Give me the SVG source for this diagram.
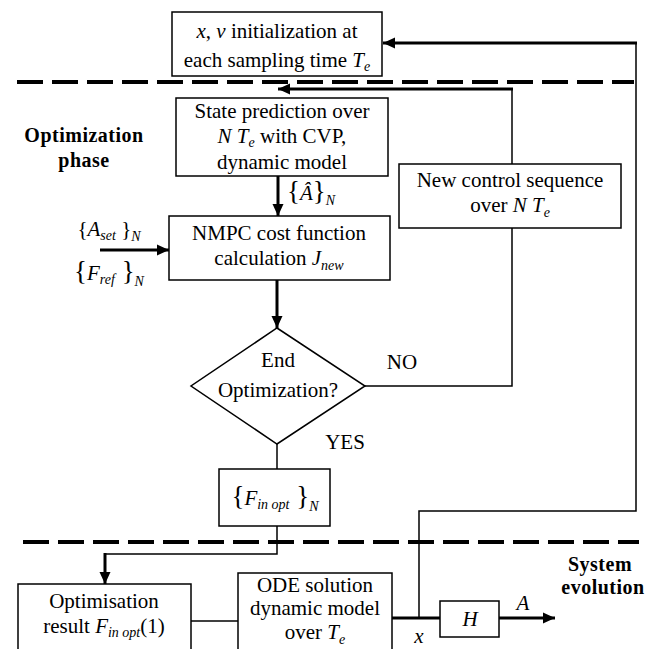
<svg xmlns="http://www.w3.org/2000/svg" width="655" height="649" viewBox="0 0 655 649" font-family="'Liberation Serif', 'DejaVu Serif', serif">
<style>
text{font-family:'Liberation Serif','DejaVu Serif',serif;font-size:21px;fill:#000;text-anchor:middle}
.b{font-weight:bold;font-size:20px;letter-spacing:0.5px}
.i{font-style:italic}
.s{font-style:italic;font-size:14px}
.br{font-size:27px;font-style:normal}
.box{fill:#fff;stroke:#000;stroke-width:1.5}
.thin{fill:none;stroke:#000;stroke-width:1.5}
.thick{fill:none;stroke:#000;stroke-width:3}
.dash{fill:none;stroke:#000;stroke-width:4;stroke-dasharray:26 9}
</style>
<defs>
<marker id="ah" markerUnits="userSpaceOnUse" markerWidth="13" markerHeight="12" refX="12" refY="6" orient="auto">
<path d="M0,0.5 L12,6 L0,11.5 z" fill="#000"/>
</marker>
</defs>

<g id="separators">
<line class="dash" x1="17" y1="82" x2="634" y2="82"/>
<line class="dash" x1="23" y1="542" x2="639" y2="542"/>
</g>

<g id="connectors">
<polyline class="thin" points="419,618 419,511 636,511 636,43"/>
<line class="thick" x1="637" y1="43" x2="383" y2="43" marker-end="url(#ah)"/>
<polyline class="thin" points="365,386 512,386 512,228"/>
<line class="thin" x1="512" y1="164" x2="512" y2="89"/>
<line class="thick" x1="513" y1="89" x2="278" y2="89" marker-end="url(#ah)"/>
<line class="thick" x1="278" y1="176" x2="278" y2="216" marker-end="url(#ah)"/>
<line class="thick" x1="100" y1="250" x2="169" y2="250" marker-end="url(#ah)"/>
<line class="thick" x1="277" y1="280" x2="277" y2="328" marker-end="url(#ah)"/>
<line class="thin" x1="277" y1="444" x2="277" y2="469"/>
<polyline class="thin" points="277,526 277,554 105,554"/>
<line class="thick" x1="105" y1="553" x2="105" y2="584" marker-end="url(#ah)"/>
<line class="thin" x1="191" y1="621" x2="238" y2="621"/>
<line class="thick" x1="392" y1="618" x2="440" y2="618"/>
<line class="thick" x1="499" y1="618" x2="555" y2="618" marker-end="url(#ah)"/>
</g>

<g id="init">
<rect class="box" x="172" y="12" width="210" height="64"/>
<text x="277" y="38"><tspan class="i">x</tspan>, <tspan class="i">ν</tspan>  initialization at</text>
<text x="277" y="67">each sampling time <tspan class="i">T</tspan><tspan class="s" dy="4">e</tspan></text>
</g>

<g id="phase-labels">
<text class="b" x="84" y="142">Optimization</text>
<text class="b" x="84" y="167">phase</text>
<text class="b" x="600" y="571">System</text>
<text class="b" x="603" y="594">evolution</text>
</g>

<g id="state-prediction">
<rect class="box" x="176" y="98" width="212" height="78"/>
<text x="282" y="118">State prediction over</text>
<text x="282" y="143"><tspan class="i">N T</tspan><tspan class="s" dy="4">e</tspan><tspan dy="-4">  with CVP,</tspan></text>
<text x="282" y="169">dynamic model</text>
</g>

<g id="a-hat-label">
<text x="311" y="200"><tspan class="br">{</tspan><tspan class="i">Â</tspan><tspan class="br">}</tspan><tspan class="s" dy="5">N</tspan></text>
</g>

<g id="inputs">
<text x="109" y="236"><tspan>{</tspan><tspan class="i">A</tspan><tspan class="s" dy="4">set</tspan><tspan dy="-4"> }</tspan><tspan class="s" dy="5">N</tspan></text>
<text x="109" y="280"><tspan class="br">{</tspan><tspan class="i">F</tspan><tspan class="s" dy="4">ref</tspan><tspan class="br" dy="-4"> }</tspan><tspan class="s" dy="6">N</tspan></text>
</g>

<g id="nmpc">
<rect class="box" x="169" y="216" width="221" height="64"/>
<text x="279" y="240">NMPC cost function</text>
<text x="279" y="265">calculation  <tspan class="i">J</tspan><tspan class="s" dy="5">new</tspan></text>
</g>

<g id="decision">
<polygon class="box" points="277,328 365,386 277,444 191,386"/>
<text x="278" y="367">End</text>
<text x="278" y="397">Optimization?</text>
<text x="402" y="369">NO</text>
<text x="345" y="449">YES</text>
</g>

<g id="new-control">
<rect class="box" x="399" y="164" width="222" height="64"/>
<text x="510" y="187">New control sequence</text>
<text x="510" y="212">over  <tspan class="i">N T</tspan><tspan class="s" dy="5">e</tspan></text>
</g>

<g id="f-opt-seq">
<rect class="box" x="219" y="469" width="111" height="57"/>
<text x="275" y="505"><tspan class="br">{</tspan><tspan class="i">F</tspan><tspan class="s" dy="4">in opt</tspan><tspan class="br" dy="-4"> }</tspan><tspan class="s" dy="6">N</tspan></text>
</g>

<g id="opt-result">
<rect class="box" x="18" y="584" width="173" height="70"/>
<text x="104" y="608">Optimisation</text>
<text x="104" y="633">result  <tspan class="i">F</tspan><tspan class="s" dy="4">in opt</tspan><tspan dy="-4">(1)</tspan></text>
</g>

<g id="ode">
<rect class="box" x="238" y="573" width="154" height="81"/>
<text x="315" y="592">ODE solution</text>
<text x="315" y="615">dynamic model</text>
<text x="315" y="639">over  <tspan class="i">T</tspan><tspan class="s" dy="5">e</tspan></text>
</g>

<g id="h-block">
<rect class="box" x="440" y="601" width="59" height="36"/>
<text class="i" x="470" y="626">H</text>
<text class="i" x="523" y="610">A</text>
<text class="i" x="419" y="643">x</text>
</g>
</svg>
